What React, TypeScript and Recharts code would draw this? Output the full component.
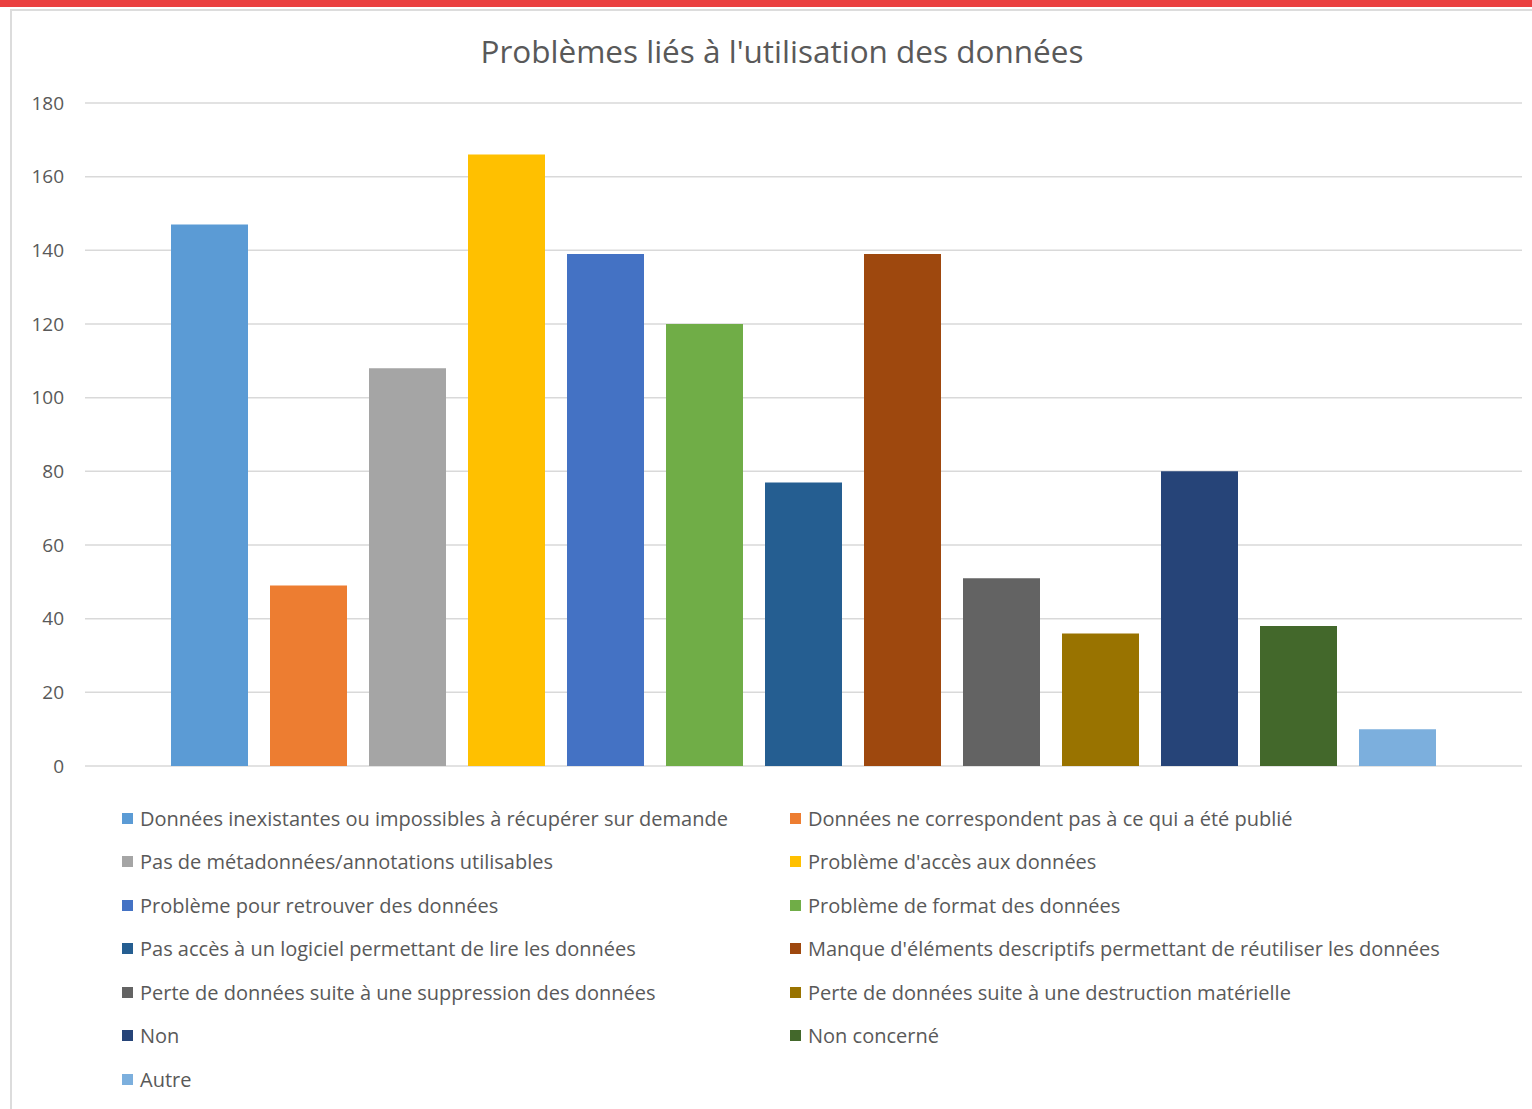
import React from 'react';
import { BarChart, Bar, XAxis, YAxis, CartesianGrid, Legend } from 'recharts';

const seriesNames = [
  'Données inexistantes ou impossibles à récupérer sur demande',
  'Données ne correspondent pas à ce qui a été publié',
  'Pas de métadonnées/annotations utilisables',
  "Problème d'accès aux données",
  'Problème pour retrouver des données',
  'Problème de format des données',
  'Pas accès à un logiciel permettant de lire les données',
  "Manque d'éléments descriptifs permettant de réutiliser les données",
  'Perte de données suite à une suppression des données',
  'Perte de données suite à une destruction matérielle',
  'Non',
  'Non concerné',
  'Autre',
];

const seriesValues = [147, 49, 108, 166, 139, 120, 77, 139, 51, 36, 80, 38, 10];

const seriesColors = [
  '#5B9BD5', '#ED7D31', '#A5A5A5', '#FFC000', '#4472C4', '#70AD47', '#255E91',
  '#9E480E', '#636363', '#997300', '#264478', '#43682B', '#7CAFDD',
];

const yTicks = [0, 20, 40, 60, 80, 100, 120, 140, 160, 180];

const title = "Problèmes liés à l'utilisation des données";

const font = '"Open Sans", sans-serif';
const textColor = '#595959';

// one category row, one key per series
const row: Record<string, string | number> = { name: '' };
seriesNames.forEach((_, i) => { row[`s${i}`] = seriesValues[i]; });
const data = [row];

const LegendGrid = () => (
  <div style={{ position: 'relative', width: 1532, height: 300, fontFamily: font }}>
    {seriesNames.map((n, i) => {
      const col = i % 2;
      const r = Math.floor(i / 2);
      return (
        <div
          key={n}
          style={{
            position: 'absolute',
            left: col === 0 ? 122 : 790,
            top: r * 43.5,
            height: 36,
            display: 'flex',
            alignItems: 'center',
            whiteSpace: 'nowrap',
            fontSize: 20,
            color: textColor,
          }}
        >
          <span style={{ width: 11, height: 11, background: seriesColors[i], marginRight: 7, display: 'inline-block' }} />
          {n}
        </div>
      );
    })}
  </div>
);

export default function App() {
  return (
    <div style={{ position: 'absolute', left: 0, top: 0, width: 1532, height: 1109, background: '#fff', overflow: 'hidden' }}>
      <div style={{ position: 'absolute', left: 0, top: 0, width: 1532, height: 7, background: '#EA4040' }} />
      <div style={{ position: 'absolute', left: 10, top: 9, width: 1522, height: 2, background: '#DCDCDC' }} />
      <div style={{ position: 'absolute', left: 10, top: 9, width: 2, height: 1100, background: '#DCDCDC' }} />
      <div
        style={{
          position: 'absolute', left: 0, top: 29, width: 1564, textAlign: 'center',
          fontFamily: font, fontSize: 31.5, color: textColor, lineHeight: '44px',
        }}
      >
        {title}
      </div>
      <BarChart
        width={1532}
        height={1109}
        data={data}
        margin={{ top: 103, right: 10, left: 25, bottom: 343 }}
        barGap={22}
        barSize={77}
      >
        <CartesianGrid vertical={false} stroke="#D9D9D9" strokeWidth={1.5} />
        <XAxis dataKey="name" hide />
        <YAxis
          domain={[0, 180]}
          ticks={yTicks}
          width={60}
          axisLine={false}
          tickLine={false}
          tickMargin={15}
          tick={{ fill: textColor, fontSize: 19, fontFamily: font }}
        />
        <Legend
          layout="vertical"
          verticalAlign="middle"
          align="center"
          wrapperStyle={{ left: 0, top: 800, width: 1532 }}
          content={() => <LegendGrid />}
        />
        {seriesNames.map((n, i) => (
          <Bar key={n} dataKey={`s${i}`} name={n} fill={seriesColors[i]} isAnimationActive={false} />
        ))}
      </BarChart>
    </div>
  );
}
